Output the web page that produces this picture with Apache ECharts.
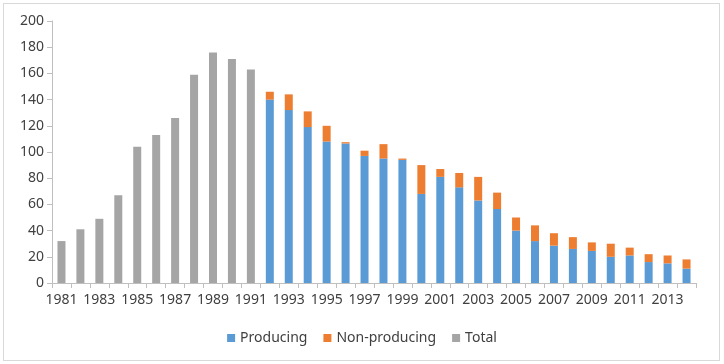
<!DOCTYPE html>
<html><head><meta charset="utf-8">
<script src="https://cdn.jsdelivr.net/npm/echarts@6/dist/echarts.min.js"></script>
<style>
html,body{margin:0;padding:0;background:#fff;}
#frame{position:absolute;left:3px;top:3px;width:715px;height:356px;border:1px solid #D9D9D9;}
#c{position:absolute;left:0;top:0;width:724px;height:364px;}
</style></head>
<body><div id="frame"></div><div id="c"></div>
<script>
const years = [];
for (let y = 1981; y <= 2014; y++) years.push(String(y));
const totalVals = [32,41,49,67,104,113,126,159,176,171,163];
const producingVals = [140,132,119,108,106.5,97,95,94,68,81,73,63,56.5,40,32,28.5,26,24.5,20,21,16,15,11];
const nonProducingVals = [6,12,12,12,1,4,11,1,22,6,11,18,12.5,10,12,9.5,9,6.5,10,6,6,6,7];
const yTicks = [0,20,40,60,80,100,120,140,160,180,200];

const nPre = totalVals.length;
const totalData = years.map((y,i)=> i < nPre ? totalVals[i] : null);
const prodData = years.map((y,i)=> i < nPre ? null : producingVals[i-nPre]);
const nonData = years.map((y,i)=> i < nPre ? null : nonProducingVals[i-nPre]);

const chart = echarts.init(document.getElementById('c'));
const font = '"Noto Sans", sans-serif';
chart.setOption({
  animation:false,
  textStyle:{fontFamily:font},
  grid:{left:52,right:28,top:21,bottom:81,containLabel:false},
  legend:{
    bottom:14,left:'center',itemWidth:8,itemHeight:8,itemGap:16,
    icon:'rect',
    textStyle:{fontFamily:font,fontSize:14,color:'#404040'},
    data:['Producing','Non-producing','Total']
  },
  xAxis:{
    type:'category',data:years,
    axisLine:{lineStyle:{color:'#BFBFBF'}},
    axisTick:{show:true,alignWithLabel:false,interval:0,length:5,lineStyle:{color:'#BFBFBF'}},
    axisLabel:{interval:1,color:'#404040',fontSize:14,fontFamily:font,margin:10}
  },
  yAxis:{
    type:'value',min:yTicks[0],max:yTicks[yTicks.length-1],interval:20,
    axisLine:{show:true,lineStyle:{color:'#BFBFBF'}},
    axisTick:{show:true,length:5,lineStyle:{color:'#BFBFBF'}},
    splitLine:{show:false},
    axisLabel:{color:'#404040',fontSize:14,fontFamily:font,margin:8}
  },
  series:[
    {name:'Producing',type:'bar',stack:'a',data:prodData,barWidth:8,itemStyle:{color:'#5B9BD5'}},
    {name:'Non-producing',type:'bar',stack:'a',data:nonData,barWidth:8,itemStyle:{color:'#ED7D31'}},
    {name:'Total',type:'bar',stack:'a',data:totalData,barWidth:8,itemStyle:{color:'#A5A5A5'}}
  ]
});
</script></body></html>
